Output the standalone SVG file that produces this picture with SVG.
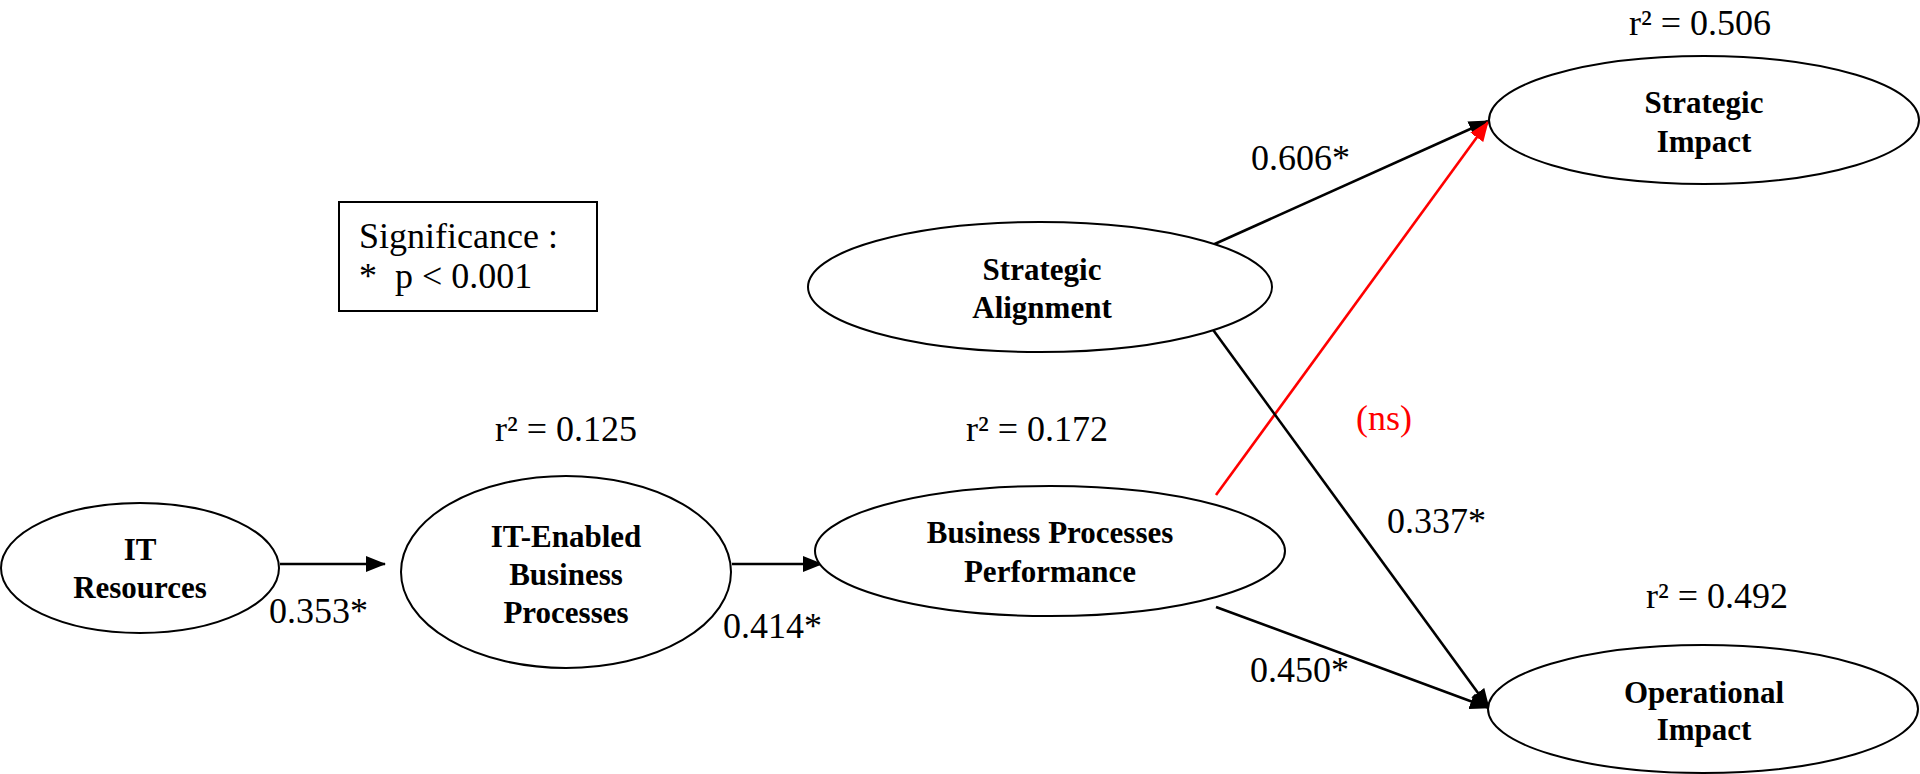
<svg xmlns="http://www.w3.org/2000/svg" width="1920" height="774" viewBox="0 0 1920 774">
  <style>
    .node { fill: #ffffff; stroke: #000000; stroke-width: 2; }
    .name { font-family: "Liberation Serif", "Times New Roman", serif; font-size: 31px; font-weight: bold; fill: #000000; text-anchor: middle; }
    .val { font-family: "Liberation Serif", "Times New Roman", serif; font-size: 36px; fill: #000000; }
    .mid { text-anchor: middle; }
    .edge { stroke: #000000; stroke-width: 2.6; fill: none; marker-end: url(#arrow); }
    .edge-ns { stroke: #ff0000; stroke-width: 2.6; fill: none; marker-end: url(#arrow-red); }
  </style>
  <defs>
    <marker id="arrow" viewBox="0 0 20 16" refX="19" refY="8" markerWidth="20" markerHeight="16" markerUnits="userSpaceOnUse" orient="auto">
      <path d="M0,0 L20,8 L0,16 z" fill="#000000"/>
    </marker>
    <marker id="arrow-red" viewBox="0 0 20 16" refX="19" refY="8" markerWidth="20" markerHeight="16" markerUnits="userSpaceOnUse" orient="auto">
      <path d="M0,0 L20,8 L0,16 z" fill="#ff0000"/>
    </marker>
  </defs>

  <rect width="1920" height="774" fill="#ffffff"/>

  <!-- connectors -->
  <g id="connectors">
    <line class="edge" x1="280" y1="564" x2="385" y2="564"/>
    <line class="edge" x1="732" y1="564" x2="822" y2="564"/>
    <line class="edge" x1="1208" y1="247" x2="1488" y2="121"/>
    <line class="edge-ns" x1="1216" y1="495" x2="1488" y2="122"/>
    <line class="edge" x1="1211" y1="327" x2="1489" y2="708"/>
    <line class="edge" x1="1216" y1="607" x2="1489" y2="708"/>
  </g>

  <!-- path coefficients -->
  <g id="coefficients">
    <text class="val" x="269" y="623">0.353*</text>
    <text class="val" x="723" y="638">0.414*</text>
    <text class="val" x="1251" y="170">0.606*</text>
    <text class="val" x="1387" y="533">0.337*</text>
    <text class="val" x="1250" y="682">0.450*</text>
    <text class="val" x="1356" y="430" style="fill:#ff0000">(ns)</text>
  </g>

  <!-- explained variance -->
  <g id="r-squared">
    <text class="val mid" x="566" y="441">r² = 0.125</text>
    <text class="val mid" x="1037" y="441">r² = 0.172</text>
    <text class="val mid" x="1700" y="35">r² = 0.506</text>
    <text class="val mid" x="1717" y="608">r² = 0.492</text>
  </g>

  <!-- legend -->
  <g id="legend">
    <rect x="339" y="202" width="258" height="109" fill="#ffffff" stroke="#000000" stroke-width="2"/>
    <text class="val" x="359" y="248">Significance :</text>
    <text class="val" x="359" y="288" xml:space="preserve">*  p &lt; 0.001</text>
  </g>

  <g id="it-resources">
    <ellipse class="node" cx="140" cy="568" rx="139" ry="65"/>
    <text class="name" x="140" y="560">IT</text>
    <text class="name" x="140" y="598">Resources</text>
  </g>

  <g id="it-enabled-processes">
    <ellipse class="node" cx="566" cy="572" rx="165" ry="96"/>
    <text class="name" x="566" y="547">IT-Enabled</text>
    <text class="name" x="566" y="585">Business</text>
    <text class="name" x="566" y="623">Processes</text>
  </g>

  <g id="process-performance">
    <ellipse class="node" cx="1050" cy="551" rx="235" ry="65"/>
    <text class="name" x="1050" y="543">Business Processes</text>
    <text class="name" x="1050" y="582">Performance</text>
  </g>

  <g id="strategic-alignment">
    <ellipse class="node" cx="1040" cy="287" rx="232" ry="65"/>
    <text class="name" x="1042" y="280">Strategic</text>
    <text class="name" x="1042" y="318">Alignment</text>
  </g>

  <g id="strategic-impact">
    <ellipse class="node" cx="1704" cy="120" rx="215" ry="64"/>
    <text class="name" x="1704" y="113">Strategic</text>
    <text class="name" x="1704" y="152">Impact</text>
  </g>

  <g id="operational-impact">
    <ellipse class="node" cx="1703" cy="709" rx="215" ry="64"/>
    <text class="name" x="1704" y="703">Operational</text>
    <text class="name" x="1704" y="740">Impact</text>
  </g>
</svg>
